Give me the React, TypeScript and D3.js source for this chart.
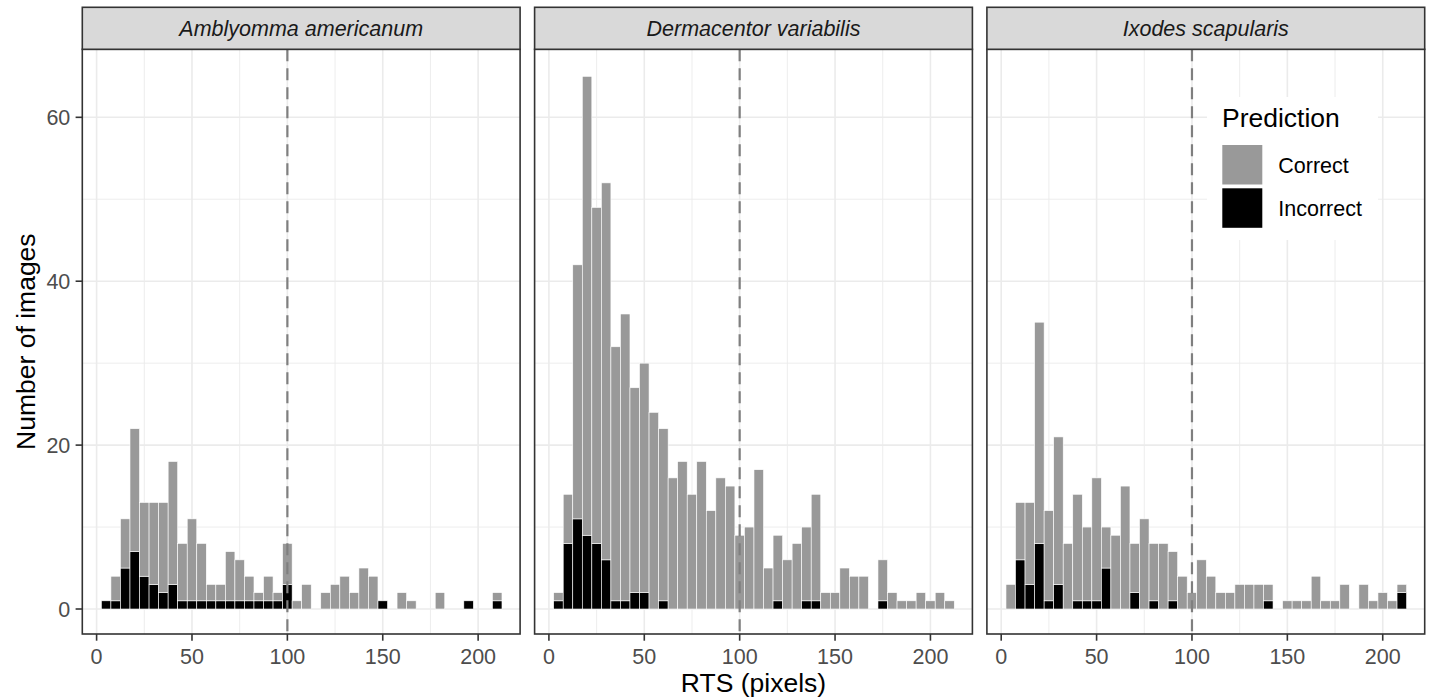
import React from "react";
import * as d3 from "d3";

const BIN_CENTERS: number[] = d3.range(5, 215, 5);
const SPECIES = ["Amblyomma americanum", "Dermacentor variabilis", "Ixodes scapularis"];
const X_TICKS = [0, 50, 100, 150, 200];
const X_MINOR = [25, 75, 125, 175];
const Y_TICKS = [0, 20, 40, 60];
const Y_MINOR = [10, 30, 50];
const THRESHOLD = 100;
const LEGEND_TITLE = "Prediction";
const LEGEND_LABELS = ["Correct", "Incorrect"];

const AMB_CORRECT = [0, 3, 6, 15, 9, 10, 11, 15, 7, 10, 7, 2, 2, 6, 5, 3, 1, 3, 1, 5, 1, 3, 0, 2, 3, 4, 2, 5, 4, 0, 0, 2, 1, 0, 0, 2, 0, 0, 0, 0, 0, 1];
const AMB_INCORRECT = [1, 1, 5, 7, 4, 3, 2, 3, 1, 1, 1, 1, 1, 1, 1, 1, 1, 1, 1, 3, 0, 0, 0, 0, 0, 0, 0, 0, 0, 1, 0, 0, 0, 0, 0, 0, 0, 0, 1, 0, 0, 1];
const DER_CORRECT = [1, 6, 31, 56, 41, 46, 31, 35, 25, 28, 24, 21, 16, 18, 14, 18, 12, 16, 15, 9, 10, 17, 5, 8, 6, 8, 9, 13, 2, 2, 5, 4, 4, 0, 5, 2, 1, 1, 2, 1, 2, 1];
const DER_INCORRECT = [1, 8, 11, 9, 8, 6, 1, 1, 2, 2, 0, 1, 0, 0, 0, 0, 0, 0, 0, 0, 0, 0, 0, 1, 0, 0, 1, 1, 0, 0, 0, 0, 0, 0, 1, 0, 0, 0, 0, 0, 0, 0];
const IXO_CORRECT = [3, 7, 10, 27, 11, 18, 8, 13, 9, 15, 5, 9, 15, 6, 11, 7, 8, 6, 4, 2, 6, 4, 2, 2, 3, 3, 3, 2, 0, 1, 1, 1, 4, 1, 1, 3, 0, 3, 1, 2, 1, 1];
const IXO_INCORRECT = [0, 6, 3, 8, 1, 3, 0, 1, 1, 1, 5, 0, 0, 2, 0, 1, 0, 1, 0, 0, 0, 0, 0, 0, 0, 0, 0, 1, 0, 0, 0, 0, 0, 0, 0, 0, 0, 0, 0, 0, 0, 2];

const CORRECT = [AMB_CORRECT, DER_CORRECT, IXO_CORRECT];
const INCORRECT = [AMB_INCORRECT, DER_INCORRECT, IXO_INCORRECT];

const FONT = "'Liberation Sans', Arial, Helvetica, sans-serif";
const GRAY = "#999999";
const BLACK = "#000000";

export default function App() {
  const W = 1429;
  const H = 700;
  const panelLeft = [82.3, 534.6, 986.9];
  const PW = 437.8;
  const stripTop = 7.3;
  const panelTop = 49.3;
  const panelBottom = 634;
  const binW = 5;

  const y = d3.scaleLinear().domain([-3.05, 68.3]).range([panelBottom, panelTop]);

  return (
    <svg
      width={W}
      height={H}
      style={{ position: "fixed", left: 0, top: 0, background: "#fff" }}
      fontFamily={FONT}
    >
      <rect x={0} y={0} width={W} height={H} fill="#fff" />
      {SPECIES.map((sp, pi) => {
        const x = d3.scaleLinear().domain([-7.5, 222]).range([panelLeft[pi], panelLeft[pi] + PW]);
        const corr = CORRECT[pi];
        const inc = INCORRECT[pi];
        return (
          <g key={sp}>
            {/* panel background */}
            <rect x={panelLeft[pi]} y={panelTop} width={PW} height={panelBottom - panelTop} fill="#fff" />
            {/* minor grid */}
            {X_MINOR.map((t) => (
              <line key={"xm" + t} x1={x(t)} x2={x(t)} y1={panelTop} y2={panelBottom} stroke="#EBEBEB" strokeWidth={0.9} />
            ))}
            {Y_MINOR.map((t) => (
              <line key={"ym" + t} x1={panelLeft[pi]} x2={panelLeft[pi] + PW} y1={y(t)} y2={y(t)} stroke="#EBEBEB" strokeWidth={0.9} />
            ))}
            {/* major grid */}
            {X_TICKS.map((t) => (
              <line key={"xg" + t} x1={x(t)} x2={x(t)} y1={panelTop} y2={panelBottom} stroke="#EBEBEB" strokeWidth={1.6} />
            ))}
            {Y_TICKS.map((t) => (
              <line key={"yg" + t} x1={panelLeft[pi]} x2={panelLeft[pi] + PW} y1={y(t)} y2={y(t)} stroke="#EBEBEB" strokeWidth={1.6} />
            ))}
            {/* bars */}
            {BIN_CENTERS.map((c, i) => {
              const ni = inc[i];
              const nc = corr[i];
              const x0 = x(c - binW / 2);
              const x1 = x(c + binW / 2);
              return (
                <g key={"b" + c}>
                  {ni > 0 && (
                    <rect x={x0} y={y(ni)} width={x1 - x0} height={y(0) - y(ni)} fill={BLACK} stroke="#fff" strokeWidth={0.6} />
                  )}
                  {nc > 0 && (
                    <rect x={x0} y={y(ni + nc)} width={x1 - x0} height={y(ni) - y(ni + nc)} fill={GRAY} stroke="#fff" strokeWidth={0.6} />
                  )}
                </g>
              );
            })}
            {/* threshold */}
            <line
              x1={x(THRESHOLD)}
              x2={x(THRESHOLD)}
              y1={panelTop}
              y2={panelBottom}
              stroke="#7F7F7F"
              strokeWidth={2.2}
              strokeDasharray="12,7"
            />
            {/* panel border */}
            <rect x={panelLeft[pi]} y={panelTop} width={PW} height={panelBottom - panelTop} fill="none" stroke="#333333" strokeWidth={1.6} />
            {/* strip */}
            <rect x={panelLeft[pi]} y={stripTop} width={PW} height={panelTop - stripTop} fill="#D9D9D9" stroke="#333333" strokeWidth={1.6} />
            <text
              x={panelLeft[pi] + PW / 2}
              y={(stripTop + panelTop) / 2 + 7.7}
              textAnchor="middle"
              fontSize={21.5}
              fontStyle="italic"
              fill="#1A1A1A"
            >
              {sp}
            </text>
            {/* x axis ticks */}
            {X_TICKS.map((t) => (
              <g key={"xt" + t}>
                <line x1={x(t)} x2={x(t)} y1={panelBottom} y2={panelBottom + 6.7} stroke="#333333" strokeWidth={1.6} />
                <text x={x(t)} y={panelBottom + 29.5} textAnchor="middle" fontSize={21.5} fill="#4D4D4D">
                  {t}
                </text>
              </g>
            ))}
          </g>
        );
      })}
      {/* y axis */}
      {Y_TICKS.map((t) => (
        <g key={"yt" + t}>
          <line x1={panelLeft[0] - 6.7} x2={panelLeft[0]} y1={y(t)} y2={y(t)} stroke="#333333" strokeWidth={1.6} />
          <text x={panelLeft[0] - 12} y={y(t) + 7.7} textAnchor="end" fontSize={21.5} fill="#4D4D4D">
            {t}
          </text>
        </g>
      ))}
      {/* axis titles */}
      <text x={(panelLeft[0] + panelLeft[2] + PW) / 2} y={692} textAnchor="middle" fontSize={26.5} fill="#000">
        RTS (pixels)
      </text>
      <text
        transform={`translate(35,${(panelTop + panelBottom) / 2}) rotate(-90)`}
        textAnchor="middle"
        fontSize={26.5}
        fill="#000"
      >
        Number of images
      </text>
      {/* legend */}
      <g>
        <rect x={1207} y={97} width={171} height={143} fill="#fff" />
        <text x={1222} y={126.5} fontSize={26.5} fill="#000">
          {LEGEND_TITLE}
        </text>
        {LEGEND_LABELS.map((lab, i) => (
          <g key={lab}>
            <rect x={1222.3} y={145 + i * 43.3} width={40} height={39.5} fill={i === 0 ? GRAY : BLACK} />
            <text x={1278.3} y={172.7 + i * 43.3} fontSize={21.5} fill="#000">
              {lab}
            </text>
          </g>
        ))}
      </g>
    </svg>
  );
}
